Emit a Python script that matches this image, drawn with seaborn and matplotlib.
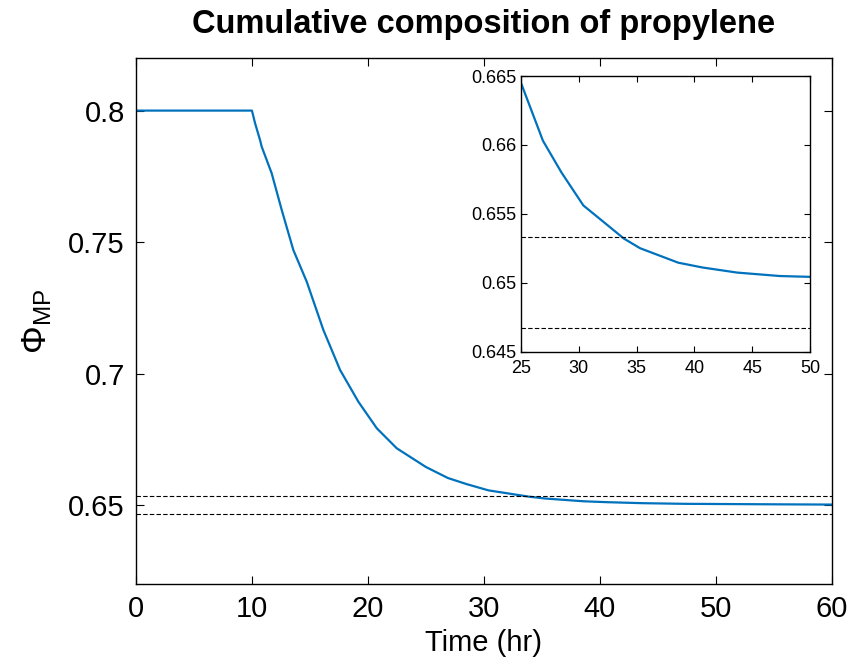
import pandas as pd
import seaborn as sns
import matplotlib.pyplot as plt
from matplotlib.ticker import FuncFormatter

# values
time_hr = [0, 10, 10.27, 10.7, 10.84, 11.7, 12.57, 13.57, 14.73, 16.16, 17.6,
           19.18, 20.77, 22.49, 25.0, 26.9, 28.5, 30.4, 32.3, 33.9, 35.3,
           38.6, 40.7, 43.7, 47.4, 50, 55, 60]
phi_mp = [0.8, 0.8, 0.7952, 0.7888, 0.7863, 0.7762, 0.7622, 0.7470, 0.7349,
          0.7166, 0.7014, 0.6893, 0.6792, 0.6716, 0.6645, 0.6603, 0.6580,
          0.6556, 0.6543, 0.6532, 0.6525, 0.65145, 0.6511, 0.65073, 0.65048,
          0.65042, 0.6503, 0.6502]
bounds = [0.6533, 0.6467]

main_xticks = [0, 10, 20, 30, 40, 50, 60]
main_yticks = [0.65, 0.7, 0.75, 0.8]
inset_xticks = [25, 30, 35, 40, 45, 50]
inset_yticks = [0.645, 0.65, 0.655, 0.66, 0.665]

df = pd.DataFrame({"Time": time_hr, "Phi": phi_mp})

sns.set_style("ticks")
plt.rcParams['font.family'] = ['Liberation Sans', 'DejaVu Sans']
plt.rcParams['mathtext.default'] = 'regular'
plt.rcParams['text.color'] = 'black'
plt.rcParams['axes.labelcolor'] = 'black'

blue = '#0072BD'
fmt = FuncFormatter(lambda v, p: f"{v:g}")


def style_axes(a, size, tick_len):
    a.tick_params(direction='in', top=True, right=True, length=tick_len,
                  width=0.8, labelsize=size, colors='black')
    for s in a.spines.values():
        s.set_visible(True)
        s.set_color('black')
        s.set_linewidth(1.0)
    a.xaxis.set_major_formatter(fmt)
    a.yaxis.set_major_formatter(fmt)


fig = plt.figure(figsize=(8.59, 6.65), dpi=100)

# main axes
ax = fig.add_axes([0.1583, 0.1218, 0.8099, 0.791])
sns.lineplot(data=df, x="Time", y="Phi", ax=ax, color=blue, lw=1.6)
for b in bounds:
    ax.axhline(b, color='black', ls='--', lw=0.8, dashes=(4, 2))
ax.set_xlim(0, 60)
ax.set_ylim(0.62, 0.82)
ax.set_xticks(main_xticks)
ax.set_yticks(main_yticks)
style_axes(ax, 21, 6)
ax.tick_params(pad=8)
ax.set_xlabel("Time (hr)", fontsize=21, labelpad=4)
ax.set_ylabel(r"$\Phi_{MP}$", fontsize=25, labelpad=10)
ax.set_title("Cumulative composition of propylene", fontsize=23.5,
             fontweight='bold', pad=18)

# inset
ins = fig.add_axes([0.6065, 0.4714, 0.3364, 0.4143])
ins.set_facecolor('white')
sns.lineplot(data=df, x="Time", y="Phi", ax=ins, color=blue, lw=1.6)
for b in bounds:
    ins.axhline(b, color='black', ls='--', lw=0.8, dashes=(4, 2))
ins.set_xlim(25, 50)
ins.set_ylim(0.645, 0.665)
ins.set_xticks(inset_xticks)
ins.set_yticks(inset_yticks)
style_axes(ins, 13, 4)
ins.tick_params(axis='y', pad=3)
ins.tick_params(axis='x', pad=6)
ins.set_xlabel("")
ins.set_ylabel("")

fig.savefig("out.png", dpi=100)
